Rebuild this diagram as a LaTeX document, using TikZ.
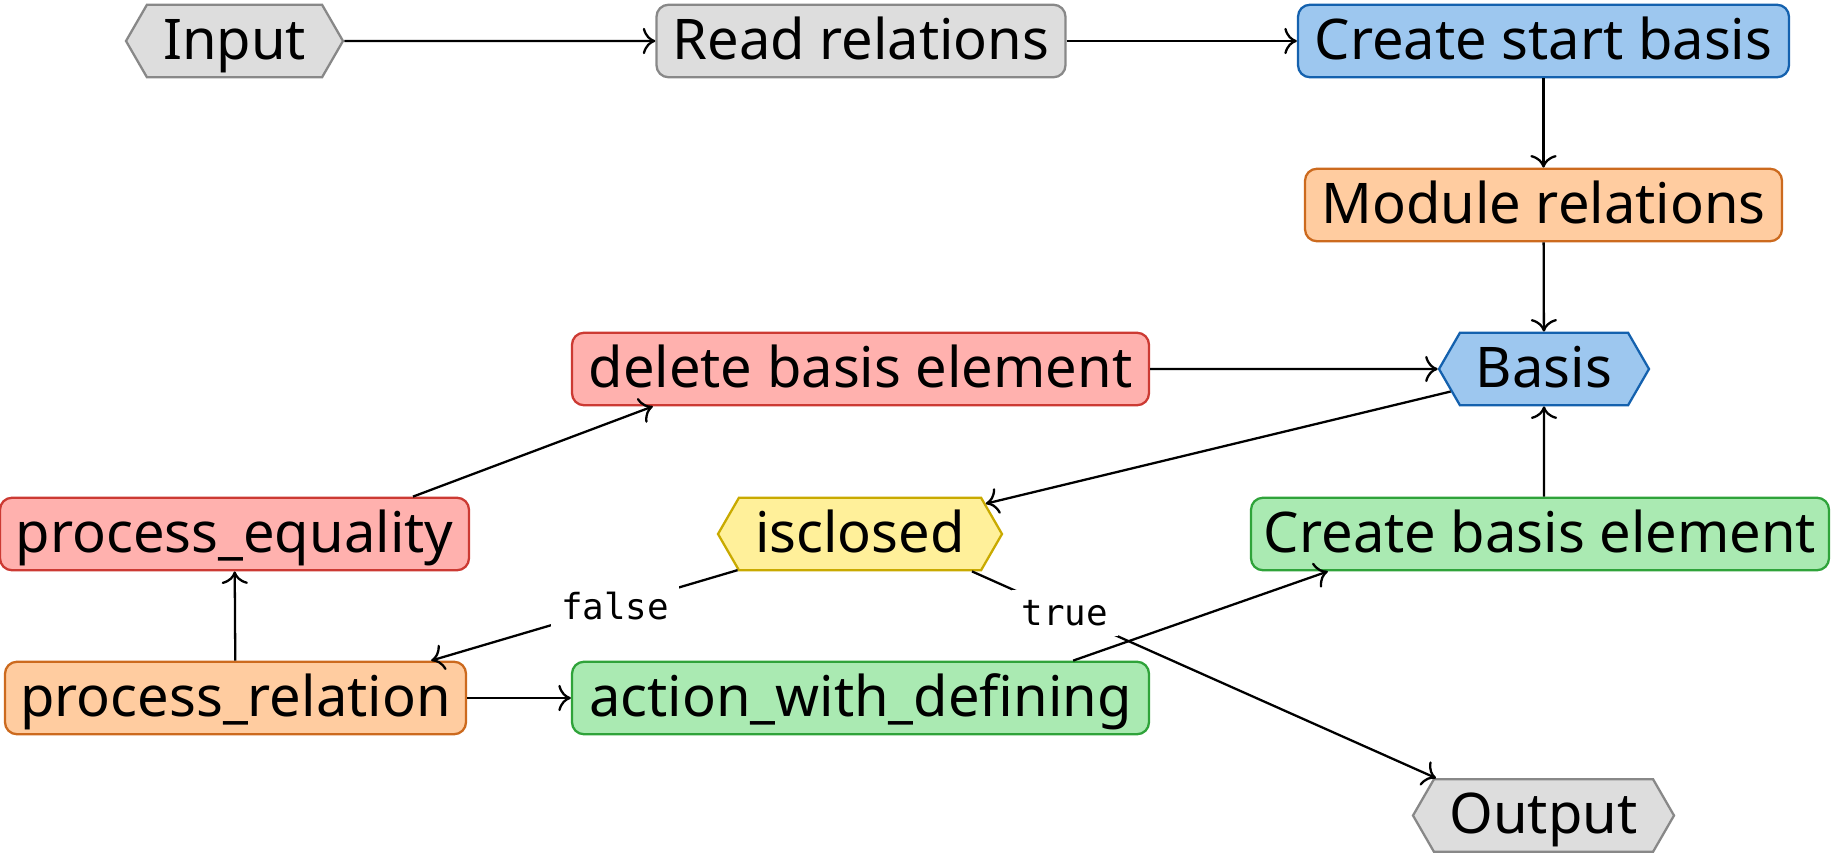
\documentclass[tikz,border=0pt]{standalone}
\usepackage{fontspec}
\setmainfont{Noto Sans}
\setmonofont{DejaVu Sans Mono}
\usetikzlibrary{shapes.symbols,arrows.meta}

\definecolor{grayfill}{HTML}{DDDDDD}
\definecolor{grayline}{HTML}{888888}
\definecolor{bluefill}{HTML}{9DC7EF}
\definecolor{blueline}{HTML}{1461AE}
\definecolor{orangefill}{HTML}{FFCCA0}
\definecolor{orangeline}{HTML}{CC6A1E}
\definecolor{redfill}{HTML}{FFB1AE}
\definecolor{redline}{HTML}{CC3A33}
\definecolor{greenfill}{HTML}{AAEAB2}
\definecolor{greenline}{HTML}{2FA33A}
\definecolor{yellowfill}{HTML}{FFF09A}
\definecolor{yellowline}{HTML}{C9AA00}

\begin{document}
\begin{tikzpicture}[line width=1.3pt, >={To[scale=1.6]}]
\tikzset{every node/.style={font=\fontsize{31.9}{38}\selectfont, minimum height=1.45cm, inner sep=0pt, text height=0.95cm, text depth=0.23cm},
        box/.style={draw, rectangle, rounded corners=0.24cm},
        hexa/.style={draw, signal, signal to=west and east, signal pointer angle=120},
        graybox/.style={fill=grayfill, draw=grayline},
        bluebox/.style={fill=bluefill, draw=blueline},
        orangebox/.style={fill=orangefill, draw=orangeline},
        redbox/.style={fill=redfill, draw=redline},
        greenbox/.style={fill=greenfill, draw=greenline},
        yellowbox/.style={fill=yellowfill, draw=yellowline},
        lbl/.style={font=\ttfamily\fontsize{20.4}{24}\selectfont, fill=white, minimum height=0pt, text height=, text depth=, inner sep=0.2cm}}
        \useasboundingbox (0,0) rectangle (36.62,-17.06);

        \node[hexa, graybox, minimum width=4.34cm] (in) at (4.69,-0.82) {Input};
        \node[box, graybox, minimum width=8.18cm] (read) at (17.22,-0.82) {Read relations};
        \node[box, bluebox, minimum width=9.82cm] (start) at (30.87,-0.82) {Create start basis};
        \node[box, orangebox, minimum width=9.54cm] (mod) at (30.87,-4.1) {Module relations};
        \node[hexa, bluebox, minimum width=4.2cm] (basis) at (30.88,-7.38) {Basis};
        \node[box, redbox, minimum width=11.54cm] (del) at (17.21,-7.38) {delete basis element};
        \node[box, redbox, minimum width=9.38cm] (peq) at (4.69,-10.68) {process\_equality};
        \node[hexa, yellowbox, minimum width=5.68cm] (closed) at (17.2,-10.68) {isclosed};
        \node[box, greenbox, minimum width=11.56cm] (cbe) at (30.8,-10.68) {Create basis element};
        \node[box, orangebox, minimum width=9.22cm] (prel) at (4.71,-13.96) {process\_relation};
        \node[box, greenbox, minimum width=11.54cm] (act) at (17.21,-13.96) {action\_with\_defining};
        \node[hexa, graybox, minimum width=5.22cm] (out) at (30.87,-16.31) {Output};

        \draw[->] (in) -- (read);
        \draw[->] (read) -- (start);
        \draw[->] (start) -- (mod);
        \draw[->] (mod) -- (basis);
        \draw[->] (del) -- (basis);
        \draw[->] (basis) -- (closed);
        \draw[->] ([xshift=3.57cm]peq.north) -- ([xshift=1.64cm]del.south west);
        \draw[->] (prel) -- (peq);
        \draw[->] (closed) -- node[lbl, pos=0.4] {false} ([xshift=-0.72cm]prel.north east);
        \draw[->] ([xshift=2.24cm]closed.south) -- node[lbl, pos=0.2] {true} ([xshift=-2.15cm]out.north);
        \draw[->] (prel) -- (act);
        \draw[->] ([xshift=-1.54cm]act.north east) -- ([xshift=1.56cm]cbe.south west);
        \draw[->] (cbe.north -| basis) -- (basis);
\end{tikzpicture}
\end{document}
